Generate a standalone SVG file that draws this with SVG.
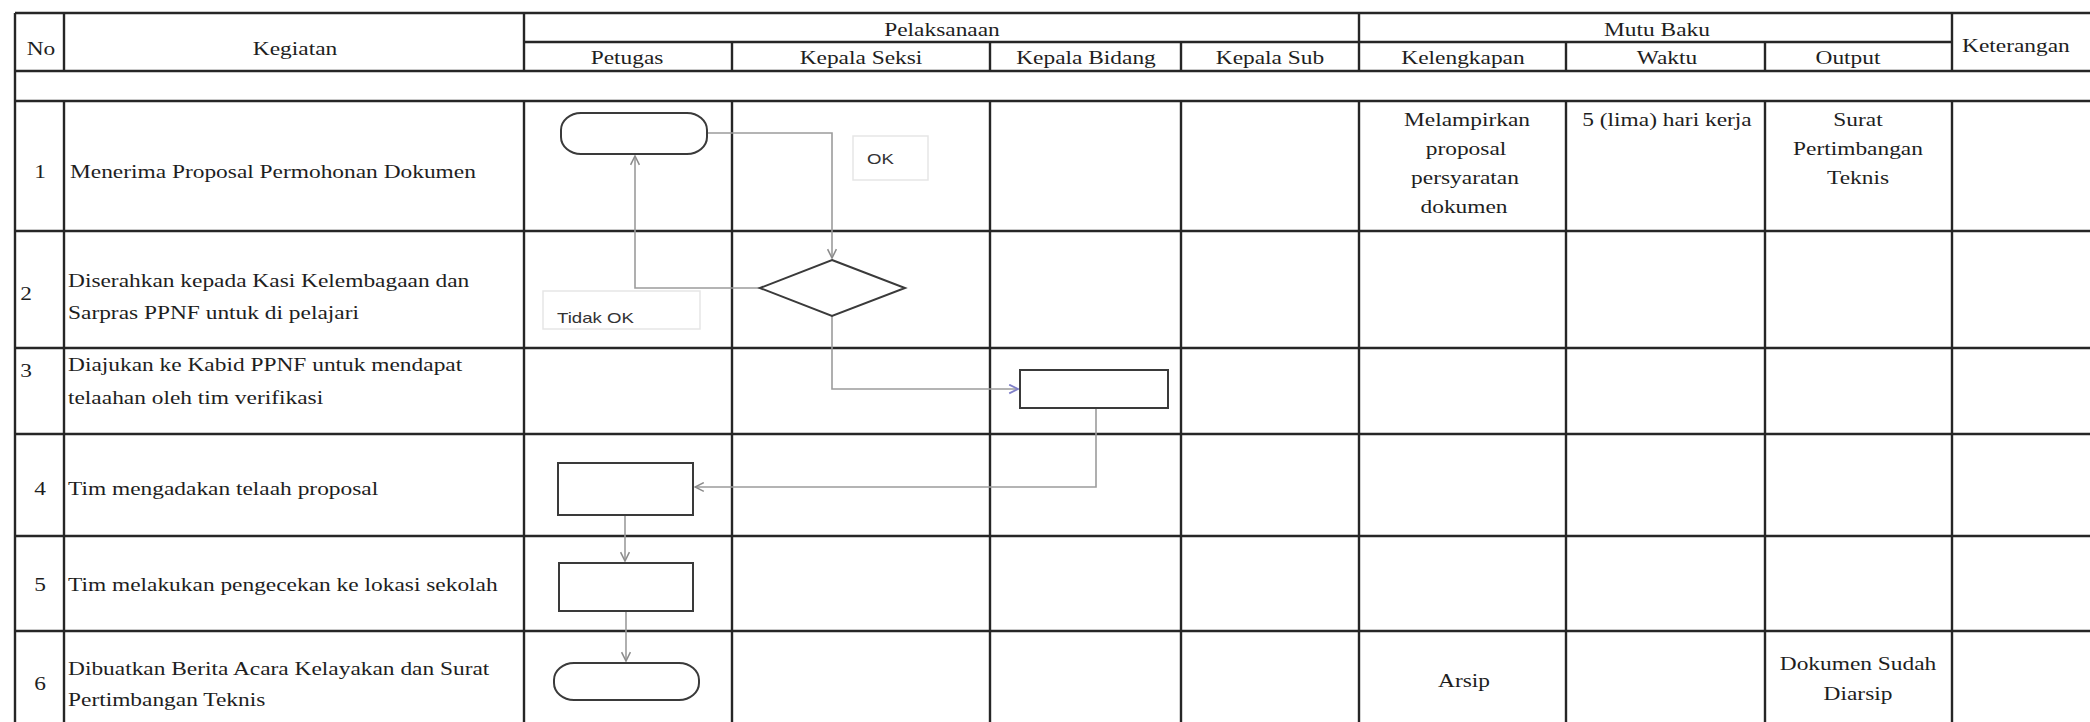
<svg xmlns="http://www.w3.org/2000/svg" width="2090" height="722" viewBox="0 0 2090 722">
<defs>
<style>
.grid{fill:none;stroke:#262626;stroke-width:2.4}
.t{font-family:"Liberation Serif","Times New Roman",serif;font-size:18px;fill:#1e1e1e}
.tc{font-family:"Liberation Serif","Times New Roman",serif;font-size:18px;fill:#1e1e1e;text-anchor:middle}
.lbl{font-family:"Liberation Sans",Arial,sans-serif;font-size:14px;fill:#333}
.shape{fill:#fff;stroke:#3a3a3a;stroke-width:2}
.conn{fill:none;stroke:#9c9c9c;stroke-width:1.6}
.lbox{fill:#fff;stroke:#e6e6e6;stroke-width:1.5}
</style>
<marker id="arr" viewBox="0 0 10 10" refX="9" refY="5" markerWidth="11" markerHeight="11" markerUnits="userSpaceOnUse" orient="auto"><path d="M1,1 L9,5 L1,9" fill="none" stroke="#8c8c8c" stroke-width="1.4"/></marker>
<marker id="arrb" viewBox="0 0 10 10" refX="9" refY="5" markerWidth="11" markerHeight="11" markerUnits="userSpaceOnUse" orient="auto"><path d="M1,1 L9,5 L1,9" fill="none" stroke="#7f7fc8" stroke-width="1.6"/></marker>
</defs>
<rect width="2090" height="722" fill="#fff"/>
<g id="table">
<path class="grid" d="M15,13 H2090 M524,42 H1952 M15,71 H2090 M15,101 H2090 M15,231 H2090 M15,348 H2090 M15,434 H2090 M15,536 H2090 M15,631 H2090"/>
<path class="grid" d="M15,13 V722 M64,13 V71 M64,101 V722 M524,13 V71 M524,101 V722 M732,42 V71 M732,101 V722 M990,42 V71 M990,101 V722 M1181,42 V71 M1181,101 V722 M1359,13 V71 M1359,101 V722 M1566,42 V71 M1566,101 V722 M1765,42 V71 M1765,101 V722 M1952,13 V71 M1952,101 V722"/>
<g id="header">
<text class="tc" transform="translate(41,55) scale(1.3,1)">No</text>
<text class="tc" transform="translate(295,55) scale(1.3,1)">Kegiatan</text>
<text class="tc" transform="translate(942,36) scale(1.3,1)">Pelaksanaan</text>
<text class="tc" transform="translate(627,64) scale(1.3,1)">Petugas</text>
<text class="tc" transform="translate(861,64) scale(1.3,1)">Kepala Seksi</text>
<text class="tc" transform="translate(1086,64) scale(1.3,1)">Kepala Bidang</text>
<text class="tc" transform="translate(1270,64) scale(1.3,1)">Kepala Sub</text>
<text class="tc" transform="translate(1463,64) scale(1.3,1)">Kelengkapan</text>
<text class="tc" transform="translate(1657,36) scale(1.3,1)">Mutu Baku</text>
<text class="tc" transform="translate(1667,64) scale(1.3,1)">Waktu</text>
<text class="tc" transform="translate(1848,64) scale(1.3,1)">Output</text>
<text class="t" transform="translate(1962,52) scale(1.3,1)">Keterangan</text>
</g>
<g id="rows">
<text class="tc" transform="translate(40,178) scale(1.3,1)">1</text>
<text class="t" transform="translate(70,178) scale(1.3,1)">Menerima Proposal Permohonan Dokumen</text>
<text class="tc" transform="translate(26,300) scale(1.3,1)">2</text>
<text class="t" transform="translate(68,287) scale(1.3,1)">Diserahkan kepada Kasi Kelembagaan dan</text>
<text class="t" transform="translate(68,319) scale(1.3,1)">Sarpras PPNF untuk di pelajari</text>
<text class="tc" transform="translate(26,377) scale(1.3,1)">3</text>
<text class="t" transform="translate(68,371) scale(1.3,1)">Diajukan ke Kabid PPNF untuk mendapat</text>
<text class="t" transform="translate(68,404) scale(1.3,1)">telaahan oleh tim verifikasi</text>
<text class="tc" transform="translate(40,495) scale(1.3,1)">4</text>
<text class="t" transform="translate(68,495) scale(1.3,1)">Tim mengadakan telaah proposal</text>
<text class="tc" transform="translate(40,591) scale(1.3,1)">5</text>
<text class="t" transform="translate(68,591) scale(1.3,1)">Tim melakukan pengecekan ke lokasi sekolah</text>
<text class="tc" transform="translate(40,690) scale(1.3,1)">6</text>
<text class="t" transform="translate(68,675) scale(1.3,1)">Dibuatkan Berita Acara Kelayakan dan Surat</text>
<text class="t" transform="translate(68,706) scale(1.3,1)">Pertimbangan Teknis</text>
</g>
<g id="mutu">
<text class="tc" transform="translate(1467,126) scale(1.3,1)">Melampirkan</text>
<text class="tc" transform="translate(1466,155) scale(1.3,1)">proposal</text>
<text class="tc" transform="translate(1465,184) scale(1.3,1)">persyaratan</text>
<text class="tc" transform="translate(1464,213) scale(1.3,1)">dokumen</text>
<text class="tc" transform="translate(1667,126) scale(1.3,1)">5 (lima) hari kerja</text>
<text class="tc" transform="translate(1858,126) scale(1.3,1)">Surat</text>
<text class="tc" transform="translate(1858,155) scale(1.3,1)">Pertimbangan</text>
<text class="tc" transform="translate(1858,184) scale(1.3,1)">Teknis</text>
<text class="tc" transform="translate(1464,687) scale(1.3,1)">Arsip</text>
<text class="tc" transform="translate(1858,670) scale(1.3,1)">Dokumen Sudah</text>
<text class="tc" transform="translate(1858,700) scale(1.3,1)">Diarsip</text>
</g>
</g>
<g id="connectors">
<path class="conn" d="M707,133 H832 V258" marker-end="url(#arr)"/>
<path class="conn" d="M760,288 H635 V156" marker-end="url(#arr)"/>
<path class="conn" d="M832,316 V389 H1018" marker-end="url(#arrb)"/>
<path class="conn" d="M1096,408 V487 H695" marker-end="url(#arr)"/>
<path class="conn" d="M625,515 V561" marker-end="url(#arr)"/>
<path class="conn" d="M626,611 V661" marker-end="url(#arr)"/>
<g id="label-ok">
<rect class="lbox" x="853" y="136" width="75" height="44"/>
<text class="lbl" transform="translate(867,164) scale(1.33,1)">OK</text>
</g>
<g id="label-tidak-ok">
<rect class="lbox" x="543" y="291" width="157" height="38"/>
<text class="lbl" transform="translate(557,323) scale(1.33,1)">Tidak OK</text>
</g>
</g>
<g id="node-start"><rect class="shape" x="561" y="113" width="146" height="41" rx="20" ry="17"/></g>
<g id="node-decision"><polygon class="shape" points="832,260 905,288 832,316 760,288"/></g>
<g id="node-p3"><rect class="shape" x="1020" y="370" width="148" height="38"/></g>
<g id="node-p4"><rect class="shape" x="558" y="463" width="135" height="52"/></g>
<g id="node-p5"><rect class="shape" x="559" y="563" width="134" height="48"/></g>
<g id="node-end"><rect class="shape" x="554" y="663" width="145" height="37" rx="20" ry="17"/></g>
</svg>
